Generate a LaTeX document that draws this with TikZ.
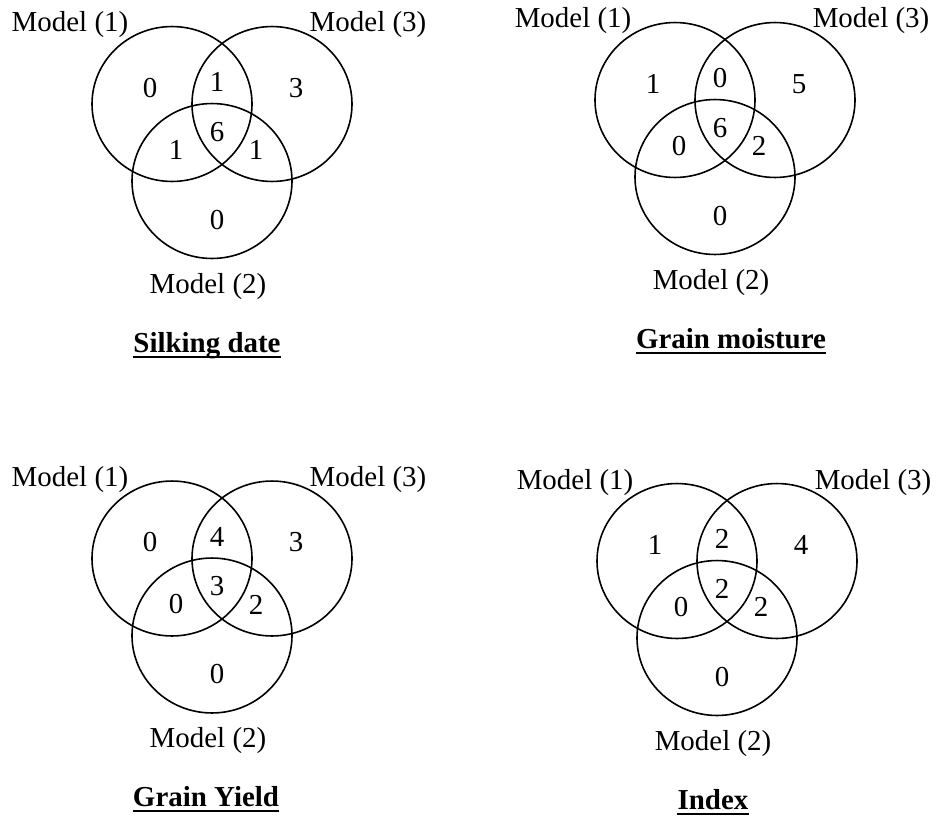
\documentclass[tikz,border=0pt]{standalone}
\usepackage{fontspec}
\setmainfont{Liberation Serif}
\usetikzlibrary{calc}

\begin{document}
\begin{tikzpicture}[x=0.75pt, y=-0.75pt,
  font=\fontsize{21.7}{26}\selectfont,
  set/.style={line width=1.2pt},
  num/.style={inner sep=0pt},
  lbl/.style={anchor=base, inner sep=0pt},
  ttl/.style={anchor=base, inner sep=0pt, font=\fontsize{21.7}{26}\selectfont\bfseries}]
  \useasboundingbox (0,0) rectangle (938,817);
  % one panel per data set: centre of set (1), counts, title
  \foreach \i/\cx/\cy/\na/\nac/\nc/\nabc/\nab/\nbc/\nb/\tx/\title in
    {1/172/104/0/1/3/6/1/1/0/35/Silking date,
     2/675/100/1/0/5/6/0/2/0/56/Grain moisture,
     3/172/558.5/0/4/3/3/0/2/0/34/Grain Yield,
     4/677/561/1/2/4/2/0/2/0/36/Index}
  {
    \begin{scope}[shift={(\cx,\cy)}]
      \draw[set] (0,0) ellipse [x radius=60pt, y radius=58.1pt];
      \draw[set] (100,0) ellipse [x radius=60pt, y radius=58.1pt];
      \draw[set] (40,77) ellipse [x radius=60pt, y radius=58.1pt];
      \node[lbl] (m1-\i) at (-102,-72) {Model (1)};
      \node[lbl] (m3-\i) at (196,-72) {Model (3)};
      \node[lbl] (m2-\i) at (36,189) {Model (2)};
      \node[num] (a-\i) at (-22,-16) {\na};
      \node[num] (ac-\i) at (45,-22) {\nac};
      \node[num] (c-\i) at (124,-16) {\nc};
      \node[num] (abc-\i) at (45,28) {\nabc};
      \node[num] (ab-\i) at (4,46) {\nab};
      \node[num] (bc-\i) at (84,46) {\nbc};
      \node[num] (b-\i) at (45,116) {\nb};
      \node[ttl] (t-\i) at (\tx,248) {\title};
      \draw[line width=1.5pt] ([yshift=-3.5pt]t-\i.base west) -- ([yshift=-3.5pt]t-\i.base east);
    \end{scope}
  }
\end{tikzpicture}
\end{document}
